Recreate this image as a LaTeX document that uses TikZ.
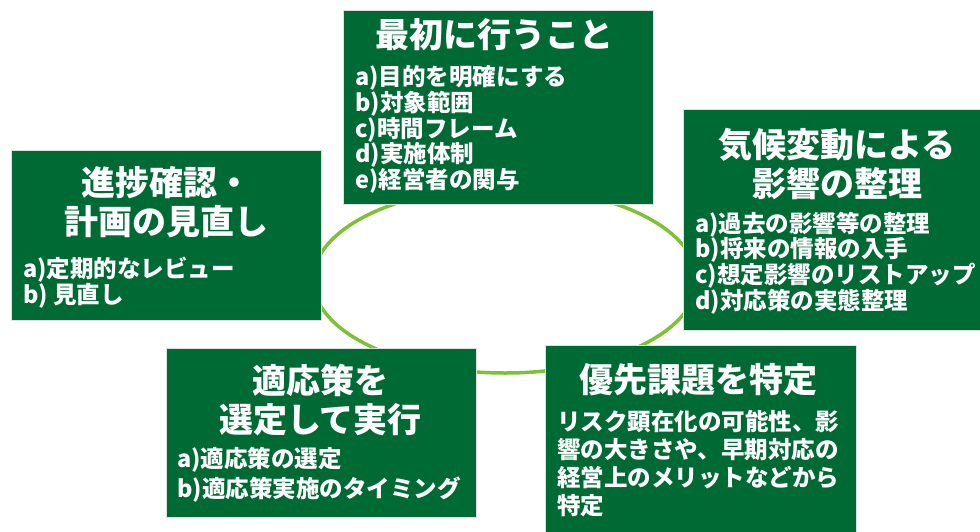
\documentclass[tikz,border=0pt]{standalone}
\usepackage{fontspec}
\setmainfont{Noto Sans CJK JP}
\definecolor{boxgreen}{RGB}{0,106,52}
\definecolor{ringgreen}{RGB}{125,193,52}
\tikzset{
  stagebox/.style={fill=boxgreen, draw=black!12, line width=0.8pt, inner sep=0pt},
  titletext/.style={text=white, font=\bfseries\fontsize{34}{39}\selectfont, align=center, inner sep=0pt},
  bodytext/.style={text=white, font=\bfseries\fontsize{23.5}{25.7}\selectfont, align=left, inner sep=0pt, anchor=north west},
  ring/.style={draw=ringgreen, line width=3.5pt}
}
\begin{document}
\begin{tikzpicture}[x=1pt,y=-1pt]
\useasboundingbox (0,0) rectangle (980,531);
\clip (0,0) rectangle (980,531);
\fill[white] (0,0) rectangle (980,531);
% cycle ring
\draw[ring] (505,280) ellipse [x radius=192pt, y radius=93pt];
% boxes
\node[stagebox, minimum width=310pt, minimum height=194pt] (topbox) at (498,107) {};
\node[stagebox, minimum width=308pt, minimum height=221pt] (rightbox) at (837,219.5) {};
\node[stagebox, minimum width=311pt, minimum height=200pt] (brbox) at (700.5,445) {};
\node[stagebox, minimum width=310pt, minimum height=169pt] (blbox) at (321,432.5) {};
\node[stagebox, minimum width=310pt, minimum height=170pt] (leftbox) at (166,235) {};
% titles
\node[titletext] (toptitle) at (494,35) {最初に行うこと};
\node[titletext] (righttitle) at (837,164) {気候変動による\\影響の整理};
\node[titletext] (brtitle) at (698.5,380) {優先課題を特定};
\node[titletext] (bltitle) at (320.5,400) {適応策を\\選定して実行};
\node[titletext] (lefttitle) at (166,202.5) {進捗確認・\\計画の見直し};
% bodies
\node[bodytext] (topbody) at (355,65.5) {a)目的を明確にする\\b)対象範囲\\c)時間フレーム\\d)実施体制\\e)経営者の関与};
\node[bodytext] (rightbody) at (695,211.5) {a)過去の影響等の整理\\b)将来の情報の入手\\c)想定影響のリストアップ\\d)対応策の実態整理};
\node[bodytext, font=\bfseries\fontsize{23.5}{27.7}\selectfont] (brbody) at (557,410.5) {リスク顕在化の可能性、影\\響の大きさや、早期対応の\\経営上のメリットなどから\\特定};
\node[bodytext, font=\bfseries\fontsize{23.5}{30}\selectfont] (blbody) at (177,446.5) {a)適応策の選定\\b)適応策実施のタイミング};
\node[bodytext, font=\bfseries\fontsize{23.5}{25}\selectfont] (leftbody) at (23,256.5) {a)定期的なレビュー\\b) 見直し};
\end{tikzpicture}
\end{document}
